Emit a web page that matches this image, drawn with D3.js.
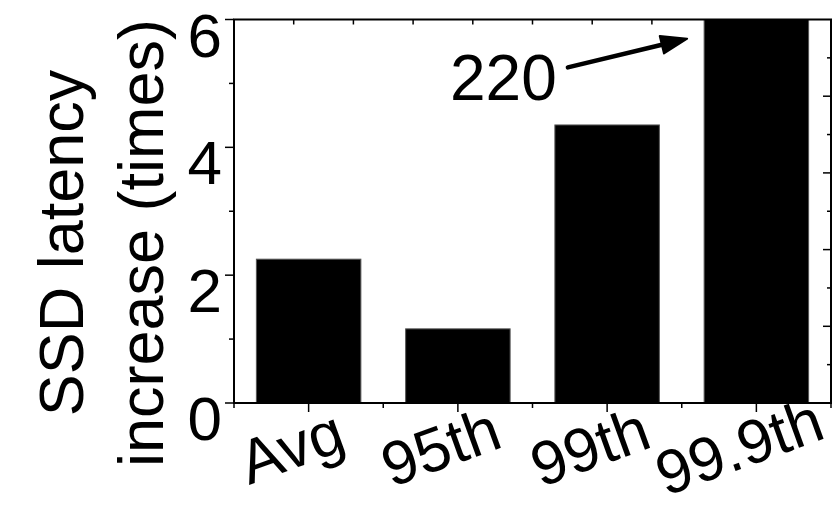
<!DOCTYPE html>
<html>
<head>
<meta charset="utf-8">
<script src="https://cdn.jsdelivr.net/npm/d3@7/dist/d3.min.js"></script>
<style>
  body { margin: 0; background: #fff; }
  text { font-family: "Liberation Sans", Arial, sans-serif; fill: #000; }
</style>
</head>
<body>
<svg id="chart" width="839" height="506"></svg>
<script>
// data
var categories = ["Avg", "95th", "99th", "99.9th"];
var latencyIncrease = [2.25, 1.16, 4.35, 220];
var yTicks = [0, 2, 4, 6];
var yMax = 6;
var annotationLabel = "220";

var svg = d3.select("#chart");
var plotLeft = 234, plotRight = 831, plotTop = 19.5, plotBottom = 403;

var x = d3.scaleBand()
    .domain(categories)
    .range([plotLeft, plotRight])
    .paddingInner(0.3)
    .paddingOuter(0.15);

var y = d3.scaleLinear()
    .domain([0, yMax])
    .range([plotBottom, plotTop]);

var rows = categories.map((c, i) => ({ name: c, value: latencyIncrease[i] }));

// bars (clipped at top of axis)
svg.selectAll(".bar")
    .data(rows)
    .enter().append("rect")
    .attr("class", "bar")
    .attr("x", d => x(d.name))
    .attr("width", x.bandwidth())
    .attr("y", d => y(Math.min(d.value, yMax)))
    .attr("height", d => plotBottom - y(Math.min(d.value, yMax)))
    .attr("style", "fill:#000;stroke:#555;stroke-width:1;");

var nHalf = categories.length * 2;

// bottom ticks, at centers (long) and between (short)
svg.selectAll(".xtick")
    .data(d3.range(0, nHalf + 1))
    .enter().append("line")
    .attr("x1", k => plotLeft + k * (plotRight - plotLeft) / nHalf)
    .attr("x2", k => plotLeft + k * (plotRight - plotLeft) / nHalf)
    .attr("y1", plotBottom)
    .attr("y2", k => k % 2 == 1 ? plotBottom + 9 : plotBottom + 5)
    .attr("style", "stroke:#000;stroke-width:1.5;");

// top ticks (10 intervals, inward)
svg.selectAll(".ttick")
    .data(d3.range(1, 10))
    .enter().append("line")
    .attr("x1", k => plotLeft + k * (plotRight - plotLeft) / 10)
    .attr("x2", k => plotLeft + k * (plotRight - plotLeft) / 10)
    .attr("y1", plotTop)
    .attr("y2", plotTop + 5)
    .attr("style", "stroke:#000;stroke-width:1.5;");

// left ticks, outward
svg.selectAll(".ltick")
    .data(d3.range(0, yMax + 1))
    .enter().append("line")
    .attr("x1", plotLeft)
    .attr("x2", v => v % 2 == 0 ? plotLeft - 9 : plotLeft - 5)
    .attr("y1", v => y(v))
    .attr("y2", v => y(v))
    .attr("style", "stroke:#000;stroke-width:1.5;");

// right ticks, inward, 10 intervals
svg.selectAll(".rtick")
    .data(d3.range(1, 10))
    .enter().append("line")
    .attr("x1", plotRight)
    .attr("x2", k => k % 2 == 0 ? plotRight - 8 : plotRight - 4)
    .attr("y1", k => plotBottom - k * (plotBottom - plotTop) / 10)
    .attr("y2", k => plotBottom - k * (plotBottom - plotTop) / 10)
    .attr("style", "stroke:#000;stroke-width:1.5;");

// frame
svg.append("rect")
    .attr("x", plotLeft)
    .attr("y", plotTop)
    .attr("width", plotRight - plotLeft)
    .attr("height", plotBottom - plotTop)
    .attr("style", "fill:none;stroke:#000;stroke-width:2;");

// y tick labels
svg.selectAll(".ylab")
    .data(yTicks)
    .enter().append("text")
    .attr("x", 222)
    .attr("y", v => y(v) + 37)
    .attr("text-anchor", "end")
    .attr("font-size", 62)
    .text(v => v);

// x tick labels, rotated
svg.selectAll(".xlab")
    .data(categories)
    .enter().append("text")
    .attr("text-anchor", "middle")
    .attr("font-size", 62)
    .attr("transform", d => "translate(" + (x(d) + x.bandwidth() / 2 - 10) + ",467) rotate(-20)")
    .text(d => d);

// y title, two lines
var title = svg.append("text")
    .attr("text-anchor", "middle")
    .attr("font-size", 63)
    .attr("transform", "translate(83,243) rotate(-90)");
title.append("tspan").attr("x", 0).attr("y", 0).text("SSD latency");
title.append("tspan").attr("x", 0).attr("y", 80).text("increase (times)");

// annotation for the clipped bar
var tipX = x("99.9th") - 17, tipY = y(5.7);
var tailX = x("99th") + 13, tailY = y(5.25);
var ang = Math.atan2(tipY - tailY, tipX - tailX);
var headLen = 26, headW = 9;
var baseX = tipX - headLen * Math.cos(ang), baseY = tipY - headLen * Math.sin(ang);

svg.append("line")
    .attr("x1", tailX).attr("y1", tailY)
    .attr("x2", baseX).attr("y2", baseY)
    .attr("style", "stroke:#000;stroke-width:4.5;stroke-linecap:round;");

svg.append("path")
    .attr("d", d3.line()([
        [tipX, tipY],
        [baseX - headW * Math.sin(ang), baseY + headW * Math.cos(ang)],
        [baseX + headW * Math.sin(ang), baseY - headW * Math.cos(ang)]
    ]) + "Z")
    .attr("style", "fill:#000;stroke:#000;stroke-width:2;stroke-linejoin:round;");

svg.append("text")
    .attr("x", 450)
    .attr("y", 100)
    .attr("font-size", 64)
    .text(annotationLabel);
</script>
</body>
</html>
